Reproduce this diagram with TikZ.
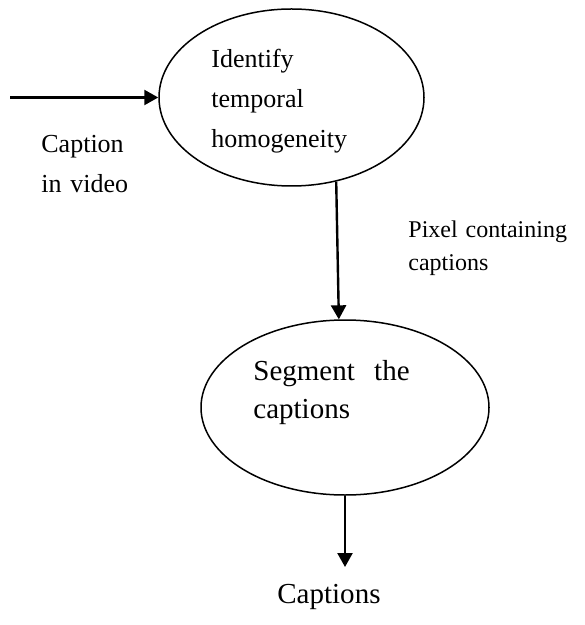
\documentclass[tikz,border=0pt]{standalone}
\usepackage{fontspec}
\setmainfont{Liberation Serif}
\usetikzlibrary{shapes.geometric,arrows.meta,positioning}

\tikzset{
  process/.style={draw, ellipse, line width=0.75pt, inner sep=0pt},
  flow/.style={line width=1.2pt, -{Triangle[length=7pt,width=7.5pt]}},
  txt/.style={anchor=base west, inner sep=0pt, align=left, text width=#1},
  txt/.default=3cm
}

\begin{document}
\begin{tikzpicture}[x=0.5pt, y=-0.5pt]
  \useasboundingbox (0,0) rectangle (584,625);

  % the two processes
  \node[process, minimum width=132.5pt, minimum height=88.5pt] (ident) at (291.5,97.5) {};
  \node[process, minimum width=144pt, minimum height=87.5pt] (segm) at (345,407.5) {};

  % texts
  \node[txt, font=\fontsize{13}{20}\selectfont] (identtxt) at (211,68)
    {Identify\\temporal\\homogeneity};
  \node[txt, font=\fontsize{14.5}{19}\selectfont] (segmtxt) at (253,380)
    {Segment\ \ the\\captions};
  \node[txt, font=\fontsize{13}{20}\selectfont] (intxt) at (41,153)
    {Caption\\in video};
  \node[txt=4cm, font=\fontsize{12}{16.5}\selectfont] (pixtxt) at (408,238)
    {Pixel containing\\captions};
  \node[txt, font=\fontsize{14.5}{19}\selectfont] (outtxt) at (277,603) {Captions};

  % flows
  \coordinate (src) at (10,97.5);
  \coordinate (sink) at (345,567);
  \draw[flow] (src) -- (ident.west);
  \draw[flow] (ident.-62) -- (segm.94);
  \draw[flow] (segm.south) -- (sink);
\end{tikzpicture}
\end{document}
